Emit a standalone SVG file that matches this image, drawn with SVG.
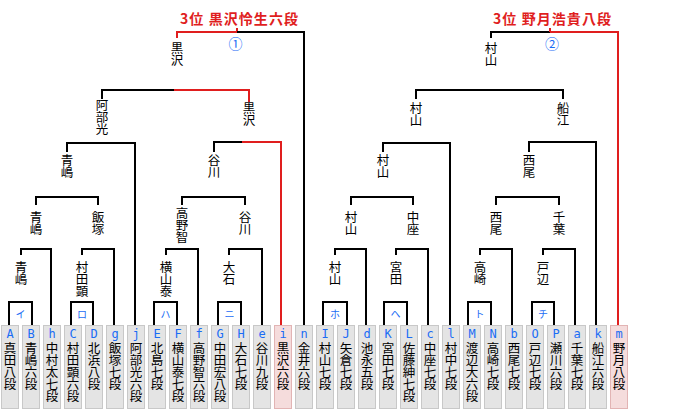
<svg xmlns="http://www.w3.org/2000/svg" width="700" height="410" viewBox="0 0 700 410">
<style>
.box{fill:#e4e4e4;stroke:#c8c8c8;stroke-width:1}
.hl{fill:#f5dcdc;stroke:#e2b4b4}
.ltr{font-family:"DejaVu Sans Mono","Liberation Mono",monospace;font-size:12px;fill:#1a6cf5;text-anchor:middle}
.nm{font-family:"Noto Sans CJK JP",sans-serif;font-size:12.5px;fill:#000;writing-mode:vertical-rl;text-anchor:start;letter-spacing:-0.5px}
.kt{font-family:"Noto Sans CJK JP",sans-serif;font-size:10px;fill:#1a6cf5;text-anchor:middle}
.ln{fill:none;stroke:#000;stroke-width:2}
.rd{fill:none;stroke:#e01e1e;stroke-width:2}
.ttl{font-family:"Noto Sans CJK JP",sans-serif;font-size:14px;font-weight:bold;fill:#e01e1e;text-anchor:middle}
.num{font-family:"Noto Sans CJK JP",sans-serif;font-size:14px;fill:#1a6cf5;text-anchor:middle}
</style>
<rect width="700" height="410" fill="#fff"/>

<g id="connectors">
  <path class="ln" d="M9 325V302H32V325"/>
  <path class="ln" d="M71 325V302H93V325"/>
  <path class="ln" d="M154 325V302H177V325"/>
  <path class="ln" d="M218 325V302H241V325"/>
  <path class="ln" d="M323 325V302H347V325"/>
  <path class="ln" d="M384 325V302H407V325"/>
  <path class="ln" d="M468 325V302H491V325"/>
  <path class="ln" d="M532 325V302H554V325"/>
  <path class="ln" d="M21 255V249H51V325"/>
  <path class="ln" d="M82 255V249H114V325"/>
  <path class="ln" d="M166 255V249H198V325"/>
  <path class="ln" d="M229 255V249H262V325"/>
  <path class="ln" d="M335 255V249H366V325"/>
  <path class="ln" d="M396 255V249H428V325"/>
  <path class="ln" d="M480 255V249H512V325"/>
  <path class="ln" d="M543 255V249H575V325"/>
  <path class="ln" d="M36 205V197H98V205"/>
  <path class="ln" d="M182 205V197H245V205"/>
  <path class="ln" d="M351 205V197H413V205"/>
  <path class="ln" d="M496 205V197H559V205"/>
  <path class="ln" d="M67 152V143H135V325"/>
  <path class="ln" d="M214 152V142H242"/>
  <path class="rd" d="M242 142H281V325"/>
  <path class="ln" d="M383 152V143H450V325"/>
  <path class="ln" d="M529 152V142H596V325"/>
  <path class="ln" d="M102 99V90H174"/>
  <path class="rd" d="M174 90H249V102"/>
  <path class="ln" d="M416 99V90H563V99"/>
  <path class="rd" d="M177 38V32H237"/>
  <path class="rd" d="M237 32V28"/>
  <path class="ln" d="M237 32H304V325"/>
  <path class="ln" d="M491 38V32H550"/>
  <path class="rd" d="M550 32H618V325"/>
  <path class="rd" d="M550 32V28"/>
</g>

<g id="pair-labels">
  <text class="kt" x="20.5" y="318">イ</text>
  <text class="kt" x="82" y="318">ロ</text>
  <text class="kt" x="165.5" y="318">ハ</text>
  <text class="kt" x="229.5" y="318">ニ</text>
  <text class="kt" x="335" y="318">ホ</text>
  <text class="kt" x="395.5" y="318">ヘ</text>
  <text class="kt" x="479.5" y="318">ト</text>
  <text class="kt" x="543" y="318">チ</text>
</g>

<g id="title-left">
  <text class="ttl" x="239" y="24" textLength="118" lengthAdjust="spacing">3位 黒沢怜生六段</text>
  <text class="num" x="235.5" y="49">①</text>
</g>
<g id="title-right">
  <text class="ttl" x="552" y="24" textLength="118" lengthAdjust="spacing">3位 野月浩貴八段</text>
  <text class="num" x="552" y="49">②</text>
</g>

<g id="winners">
  <g id="w-final-l"><text class="nm" x="177" y="42">黒沢</text></g>
  <g id="w-final-r"><text class="nm" x="491" y="42">村山</text></g>
  <g id="w5-1"><text class="nm" x="102" y="99">阿部光</text></g>
  <g id="w5-2"><text class="nm" x="249" y="102">黒沢</text></g>
  <g id="w5-3"><text class="nm" x="416" y="102">村山</text></g>
  <g id="w5-4"><text class="nm" x="563" y="102">船江</text></g>
  <g id="w4-1"><text class="nm" x="67" y="154">青嶋</text></g>
  <g id="w4-2"><text class="nm" x="214" y="154">谷川</text></g>
  <g id="w4-3"><text class="nm" x="383" y="154">村山</text></g>
  <g id="w4-4"><text class="nm" x="529" y="154">西尾</text></g>
  <g id="w3-1"><text class="nm" x="36" y="211">青嶋</text></g>
  <g id="w3-2"><text class="nm" x="98" y="211">飯塚</text></g>
  <g id="w3-3"><text class="nm" x="182" y="207">高野智</text></g>
  <g id="w3-4"><text class="nm" x="245" y="211">谷川</text></g>
  <g id="w3-5"><text class="nm" x="351" y="211">村山</text></g>
  <g id="w3-6"><text class="nm" x="413" y="211">中座</text></g>
  <g id="w3-7"><text class="nm" x="496" y="211">西尾</text></g>
  <g id="w3-8"><text class="nm" x="559" y="211">千葉</text></g>
  <g id="w2-1"><text class="nm" x="21" y="261">青嶋</text></g>
  <g id="w2-2"><text class="nm" x="82" y="261">村田顕</text></g>
  <g id="w2-3"><text class="nm" x="166" y="261">横山泰</text></g>
  <g id="w2-4"><text class="nm" x="229" y="261">大石</text></g>
  <g id="w2-5"><text class="nm" x="335" y="261">村山</text></g>
  <g id="w2-6"><text class="nm" x="396" y="261">宮田</text></g>
  <g id="w2-7"><text class="nm" x="480" y="261">高崎</text></g>
  <g id="w2-8"><text class="nm" x="543" y="261">戸辺</text></g>
</g>

<g id="players">
  <g id="p-A"><rect class="box" x="1.5" y="325.5" width="17" height="83"/><text class="ltr" x="10" y="337.5">A</text><text class="nm" x="10" y="341.5">真田八段</text></g>
  <g id="p-B"><rect class="box" x="22.5" y="325.5" width="17" height="83"/><text class="ltr" x="31" y="337.5">B</text><text class="nm" x="31" y="341.5">青嶋六段</text></g>
  <g id="p-h"><rect class="box" x="43.5" y="325.5" width="17" height="83"/><text class="ltr" x="52" y="337.5">h</text><text class="nm" x="52" y="341.5">中村太七段</text></g>
  <g id="p-C"><rect class="box" x="64.5" y="325.5" width="17" height="83"/><text class="ltr" x="73" y="337.5">C</text><text class="nm" x="73" y="341.5">村田顕六段</text></g>
  <g id="p-D"><rect class="box" x="85.5" y="325.5" width="17" height="83"/><text class="ltr" x="94" y="337.5">D</text><text class="nm" x="94" y="341.5">北浜八段</text></g>
  <g id="p-g"><rect class="box" x="106.5" y="325.5" width="17" height="83"/><text class="ltr" x="115" y="337.5">g</text><text class="nm" x="115" y="341.5">飯塚七段</text></g>
  <g id="p-j"><rect class="box" x="127.5" y="325.5" width="17" height="83"/><text class="ltr" x="136" y="337.5">j</text><text class="nm" x="136" y="341.5">阿部光六段</text></g>
  <g id="p-E"><rect class="box" x="148.5" y="325.5" width="17" height="83"/><text class="ltr" x="157" y="337.5">E</text><text class="nm" x="157" y="341.5">北島七段</text></g>
  <g id="p-F"><rect class="box" x="169.5" y="325.5" width="17" height="83"/><text class="ltr" x="178" y="337.5">F</text><text class="nm" x="178" y="341.5">横山泰七段</text></g>
  <g id="p-f"><rect class="box" x="190.5" y="325.5" width="17" height="83"/><text class="ltr" x="199" y="337.5">f</text><text class="nm" x="199" y="341.5">高野智六段</text></g>
  <g id="p-G"><rect class="box" x="211.5" y="325.5" width="17" height="83"/><text class="ltr" x="220" y="337.5">G</text><text class="nm" x="220" y="341.5">中田宏八段</text></g>
  <g id="p-H"><rect class="box" x="232.5" y="325.5" width="17" height="83"/><text class="ltr" x="241" y="337.5">H</text><text class="nm" x="241" y="341.5">大石七段</text></g>
  <g id="p-e"><rect class="box" x="253.5" y="325.5" width="17" height="83"/><text class="ltr" x="262" y="337.5">e</text><text class="nm" x="262" y="341.5">谷川九段</text></g>
  <g id="p-i"><rect class="box hl" x="274.5" y="325.5" width="17" height="83"/><text class="ltr" x="283" y="337.5">i</text><text class="nm" x="283" y="341.5">黒沢六段</text></g>
  <g id="p-n"><rect class="box" x="295.5" y="325.5" width="17" height="83"/><text class="ltr" x="304" y="337.5">n</text><text class="nm" x="304" y="341.5">金井六段</text></g>
  <g id="p-I"><rect class="box" x="316.5" y="325.5" width="17" height="83"/><text class="ltr" x="325" y="337.5">I</text><text class="nm" x="325" y="341.5">村山七段</text></g>
  <g id="p-J"><rect class="box" x="337.5" y="325.5" width="17" height="83"/><text class="ltr" x="346" y="337.5">J</text><text class="nm" x="346" y="341.5">矢倉七段</text></g>
  <g id="p-d"><rect class="box" x="358.5" y="325.5" width="17" height="83"/><text class="ltr" x="367" y="337.5">d</text><text class="nm" x="367" y="341.5">池永五段</text></g>
  <g id="p-K"><rect class="box" x="379.5" y="325.5" width="17" height="83"/><text class="ltr" x="388" y="337.5">K</text><text class="nm" x="388" y="341.5">宮田七段</text></g>
  <g id="p-L"><rect class="box" x="400.5" y="325.5" width="17" height="83"/><text class="ltr" x="409" y="337.5">L</text><text class="nm" x="409" y="341.5">佐藤紳七段</text></g>
  <g id="p-c"><rect class="box" x="421.5" y="325.5" width="17" height="83"/><text class="ltr" x="430" y="337.5">c</text><text class="nm" x="430" y="341.5">中座七段</text></g>
  <g id="p-l"><rect class="box" x="442.5" y="325.5" width="17" height="83"/><text class="ltr" x="451" y="337.5">l</text><text class="nm" x="451" y="341.5">村中七段</text></g>
  <g id="p-M"><rect class="box" x="463.5" y="325.5" width="17" height="83"/><text class="ltr" x="472" y="337.5">M</text><text class="nm" x="472" y="341.5">渡辺大六段</text></g>
  <g id="p-N"><rect class="box" x="484.5" y="325.5" width="17" height="83"/><text class="ltr" x="493" y="337.5">N</text><text class="nm" x="493" y="341.5">高崎七段</text></g>
  <g id="p-b"><rect class="box" x="505.5" y="325.5" width="17" height="83"/><text class="ltr" x="514" y="337.5">b</text><text class="nm" x="514" y="341.5">西尾七段</text></g>
  <g id="p-O"><rect class="box" x="526.5" y="325.5" width="17" height="83"/><text class="ltr" x="535" y="337.5">O</text><text class="nm" x="535" y="341.5">戸辺七段</text></g>
  <g id="p-P"><rect class="box" x="547.5" y="325.5" width="17" height="83"/><text class="ltr" x="556" y="337.5">P</text><text class="nm" x="556" y="341.5">瀬川六段</text></g>
  <g id="p-a"><rect class="box" x="568.5" y="325.5" width="17" height="83"/><text class="ltr" x="577" y="337.5">a</text><text class="nm" x="577" y="341.5">千葉七段</text></g>
  <g id="p-k"><rect class="box" x="589.5" y="325.5" width="17" height="83"/><text class="ltr" x="598" y="337.5">k</text><text class="nm" x="598" y="341.5">船江六段</text></g>
  <g id="p-m"><rect class="box hl" x="610.5" y="325.5" width="17" height="83"/><text class="ltr" x="619" y="337.5">m</text><text class="nm" x="619" y="341.5">野月八段</text></g>
</g>
</svg>
